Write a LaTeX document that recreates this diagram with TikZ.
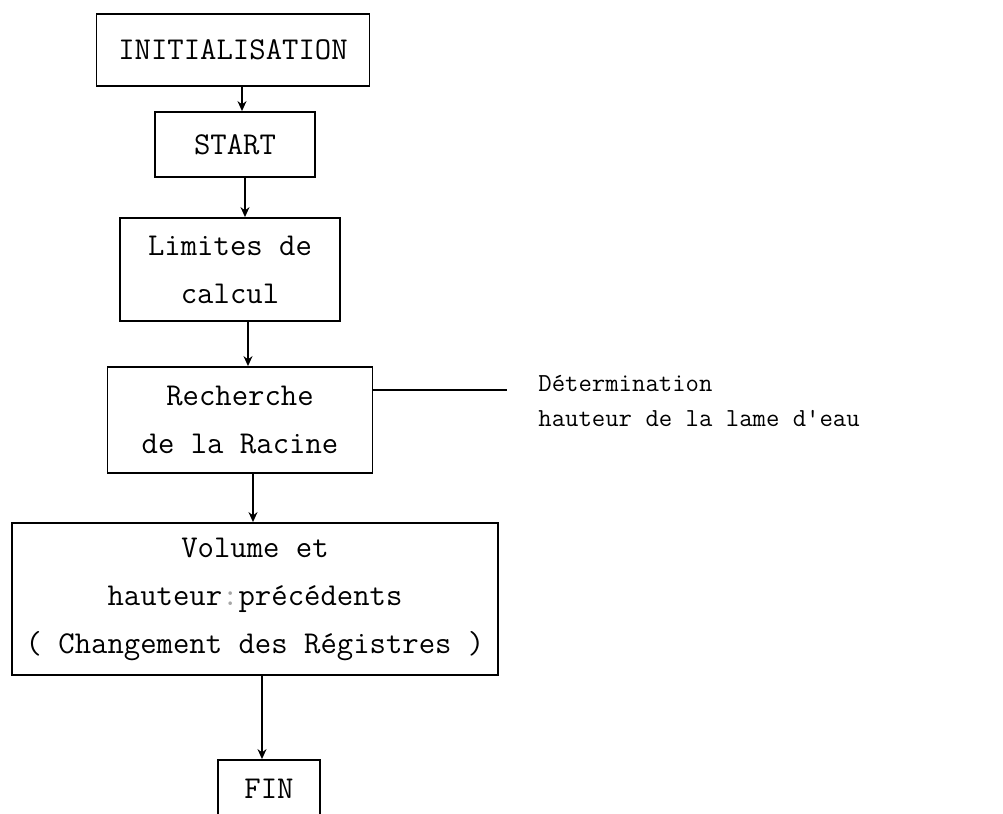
\documentclass[tikz,border=0pt]{standalone}
\usepackage{fontspec}
\usetikzlibrary{arrows.meta}
\newcommand{\boxfont}{\ttfamily\fontsize{15.9}{24}\selectfont}
\newcommand{\sidefont}{\ttfamily\fontsize{13}{17.5}\selectfont}
\tikzset{
  box/.style={draw, line width=0.9pt, align=center, inner sep=0pt, font=\boxfont},
  arr/.style={-{Stealth[length=5pt,width=4.5pt]}, line width=0.75pt},
  sidetext/.style={align=left, inner sep=0pt, font=\sidefont, anchor=west},
}
\begin{document}
\begin{tikzpicture}[x=0.5pt,y=-0.5pt]
\useasboundingbox[fill=white] (0,0) rectangle (1003,814);
\node[box, minimum width=136.5pt, minimum height=36pt] (init) at (233,50) {INITIALISATION};
\node[box, minimum width=80pt, minimum height=32.5pt] (start) at (235,144.5) {START};
\node[box, minimum width=110pt, minimum height=51.5pt] (lim) at (230,269.5) {Limites de\\calcul};
\node[box, minimum width=132.5pt, minimum height=53pt] (rech) at (240,420) {Recherche\\de la Racine};
\node[box, minimum width=243pt, minimum height=76pt] (vol) at (255,599) {Volume et\\hauteur{\color{black!35}:}précédents\\( Changement des Régistres )};
\node[box, minimum width=51pt, minimum height=29pt] (fin) at (269,789) {FIN};
\node[sidetext] (det) at (538,400.5) {Détermination\\hauteur de la lame d'eau};
\coordinate (c1) at (507,390);
\draw[arr] ([xshift=4.5pt]init.south) -- ([xshift=3.5pt]start.north);
\draw[arr] ([xshift=5pt]start.south) -- ([xshift=7.5pt]lim.north);
\draw[arr] ([xshift=9pt]lim.south) -- ([xshift=4pt]rech.north);
\draw[arr] ([xshift=6.5pt]rech.south) -- ([xshift=-1pt]vol.north);
\draw[arr] ([xshift=3.5pt]vol.south) -- ([xshift=-3.5pt]fin.north);
\draw[line width=0.75pt] (rech.east |- c1) -- (c1);
\end{tikzpicture}
\end{document}
